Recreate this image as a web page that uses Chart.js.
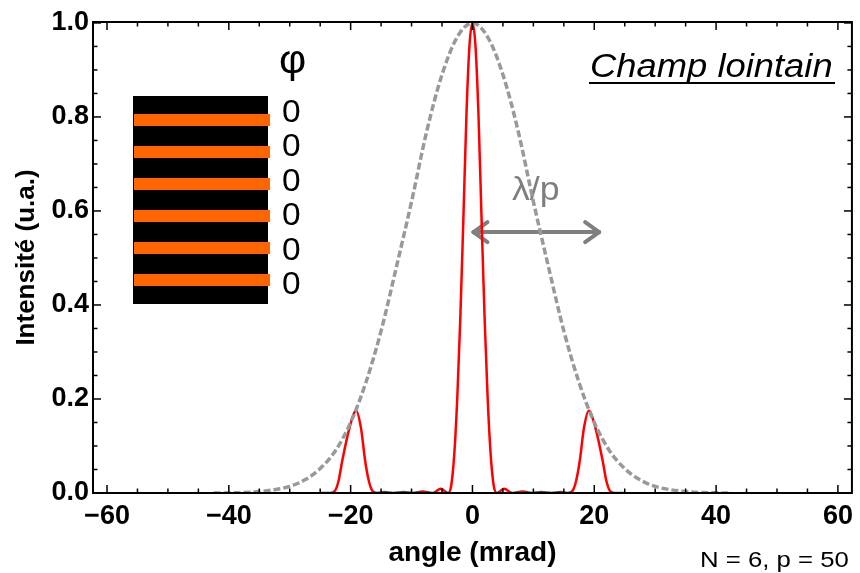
<!DOCTYPE html>
<html>
<head>
<meta charset="utf-8">
<script src="https://cdn.jsdelivr.net/npm/chart.js@4.4.1/dist/chart.umd.min.js"></script>
<style>
  html, body { margin: 0; padding: 0; background: #fff; }
  #wrap { width: 860px; height: 573px; }
</style>
</head>
<body>
<div id="wrap"><canvas id="farField" width="860" height="573"></canvas></div>
<script>
// far-field intensity
const redAngle = [-25, -23.3, -22.6, -22, -21.4, -20.2, -19.1, -18.3, -17.6, -17, -16.4, -15.6, -14.5, -13, -11.3, -9.8, -8.2, -6.6, -5.2, -4, -3.5, -3, -2.5, -2, -1.5, -1, -0.5,
  0,
  0.5, 1, 1.5, 2, 2.5, 3, 3.5, 4, 5.2, 6.6, 8.2, 9.8, 11.3, 13, 14.5, 15.6, 16.4, 17, 17.6, 18.3, 19.1, 20.2, 21.4, 22, 22.6, 23.3, 25];
const redInt = [0, 0, 0.004, 0.025, 0.067, 0.138, 0.175, 0.138, 0.067, 0.025, 0.004, 0, 0.002, 0, 0.002, 0, 0.003, 0, 0.009, 0, 0.015, 0.08, 0.2, 0.37, 0.58, 0.8, 0.95,
  1.0,
  0.95, 0.8, 0.58, 0.37, 0.2, 0.08, 0.015, 0, 0.009, 0, 0.003, 0, 0.002, 0, 0.002, 0, 0.004, 0.025, 0.067, 0.138, 0.175, 0.138, 0.067, 0.025, 0.004, 0, 0];

// single-emitter envelope (gray dashed)
const envAngle = [-42.5, -40, -37.5, -35, -32.5, -30, -27.5, -25, -22.5, -20, -17.5, -15, -12.5, -10, -7.5, -5, -2.5, 0, 2.5, 5, 7.5, 10, 12.5, 15, 17.5, 20, 22.5, 25, 27.5, 30, 32.5, 35, 37.5, 40, 42.5];
const envInt = [0, 0.0004, 0.001, 0.003, 0.007, 0.014, 0.028, 0.052, 0.09, 0.15, 0.235, 0.345, 0.48, 0.62, 0.77, 0.89, 0.97, 1.0, 0.97, 0.89, 0.77, 0.62, 0.48, 0.345, 0.235, 0.15, 0.09, 0.052, 0.028, 0.014, 0.007, 0.003, 0.001, 0.0004, 0];

const xTicks = [-60, -40, -20, 0, 20, 40, 60];
const yTicks = [0, 0.2, 0.4, 0.6, 0.8, 1.0];
const phases = ["0", "0", "0", "0", "0", "0"];

const FONT = "'Liberation Sans', Arial, Helvetica, sans-serif";

function stretchText(ctx, str, x, y, sx) {
  ctx.save();
  ctx.translate(x, y);
  ctx.scale(sx, 1);
  ctx.fillText(str, 0, 0);
  ctx.restore();
}

function seg(ctx, x1, y1, x2, y2) {
  ctx.beginPath();
  ctx.moveTo(x1, y1);
  ctx.lineTo(x2, y2);
  ctx.stroke();
}

const notes = {
  id: "notes",
  beforeDatasetsDraw(chart) {
    const { ctx, scales: { x, y } } = chart;
    ctx.save();

    // emitter stack
    ctx.fillStyle = "#000";
    ctx.fillRect(133, 96, 135, 208);
    ctx.fillStyle = "#ff6600";
    for (let i = 0; i < phases.length; i++) {
      ctx.fillRect(134, 114 + i * 32, 136, 12);
    }

    ctx.fillStyle = "#000";
    ctx.textBaseline = "alphabetic";
    ctx.textAlign = "left";
    ctx.font = "40px " + FONT;
    stretchText(ctx, "\u03c6", 279, 73, 1.05);
    ctx.font = "31px " + FONT;
    phases.forEach((p, i) => stretchText(ctx, p, 282, 122 + i * 34.4, 1.08));

    // lambda/p arrow
    const ay = y.getPixelForValue(0.555);
    const x0 = x.getPixelForValue(0) + 1;
    const x1 = x.getPixelForValue(20.8);
    ctx.strokeStyle = "#7f7f7f";
    ctx.lineWidth = 4;
    ctx.lineCap = "round";
    seg(ctx, x0, ay, x1, ay);
    seg(ctx, x0, ay, x0 + 14, ay - 10);
    seg(ctx, x0, ay, x0 + 14, ay + 10);
    seg(ctx, x1, ay, x1 - 14, ay - 10);
    seg(ctx, x1, ay, x1 - 14, ay + 10);
    ctx.fillStyle = "#7f7f7f";
    ctx.font = "34px " + FONT;
    stretchText(ctx, "\u03bb/p", 512, 200, 1.05);

    ctx.restore();
  },
  afterDatasetsDraw(chart) {
    const { ctx, chartArea: a, scales: { x, y } } = chart;
    ctx.save();
    ctx.strokeStyle = "#000";
    ctx.lineWidth = 2;
    ctx.strokeRect(a.left, a.top, a.right - a.left, a.bottom - a.top);

    // inward ticks on all four sides
    ctx.lineWidth = 1.5;
    for (let v = -60; v <= 60; v += 5) {
      const px = x.getPixelForValue(v);
      const len = v % 20 === 0 ? 8 : 4.5;
      seg(ctx, px, a.bottom, px, a.bottom - len);
      seg(ctx, px, a.top, px, a.top + len);
    }
    for (let i = 0; i <= 20; i++) {
      const py = y.getPixelForValue(i * 0.05);
      const len = i % 4 === 0 ? 8 : 4.5;
      seg(ctx, a.left, py, a.left + len, py);
      seg(ctx, a.right, py, a.right - len, py);
    }

    ctx.fillStyle = "#000";
    ctx.font = "italic 34px " + FONT;
    stretchText(ctx, "Champ lointain", 590, 77, 1.07);
    ctx.lineWidth = 2;
    seg(ctx, 589, 83, 835, 83);

    ctx.font = "22px " + FONT;
    stretchText(ctx, "N = 6, p = 50", 700, 567, 1.17);
    ctx.restore();
  }
};

const ctx = document.getElementById("farField").getContext("2d");

new Chart(ctx, {
  type: "scatter",
  data: {
    datasets: [
      {
        label: "enveloppe",
        data: envAngle.map((a, i) => ({ x: a, y: envInt[i] })),
        showLine: true,
        borderColor: "#999999",
        borderWidth: 3.5,
        borderDash: [7, 3],
        pointRadius: 0,
        cubicInterpolationMode: "monotone",
      },
      {
        label: "intensite",
        data: redAngle.map((a, i) => ({ x: a, y: redInt[i] })),
        showLine: true,
        borderColor: "#ff0000",
        borderWidth: 2.5,
        pointRadius: 0,
        cubicInterpolationMode: "monotone",
      },
    ],
  },
  options: {
    responsive: false,
    animation: false,
    events: [],
    layout: { padding: { top: 22, right: 4, left: 0, bottom: 0 } },
    plugins: { legend: { display: false }, tooltip: { enabled: false } },
    scales: {
      x: {
        type: "linear",
        min: -62.3,
        max: 62.3,
        grid: { display: false, drawTicks: false },
        border: { display: false },
        afterBuildTicks: (s) => { s.ticks = xTicks.map((v) => ({ value: v })); },
        afterFit: (s) => { s.height = 80; },
        ticks: {
          autoSkip: false,
          maxRotation: 0,
          padding: 7,
          color: "#000",
          font: { family: FONT, size: 27, weight: "bold" },
          callback: (v) => (v < 0 ? "\u2212" + Math.abs(v) : String(v)),
        },
        title: {
          display: true,
          text: "angle (mrad)",
          color: "#000",
          font: { family: FONT, size: 28, weight: "bold" },
          padding: { top: 0, bottom: 3 },
        },
      },
      y: {
        min: 0,
        max: 1.002,
        grid: { display: false, drawTicks: false },
        border: { display: false },
        afterBuildTicks: (s) => { s.ticks = yTicks.map((v) => ({ value: v })); },
        afterFit: (s) => { s.width = 93; },
        ticks: {
          padding: 4,
          color: "#000",
          font: { family: FONT, size: 27, weight: "bold" },
          callback: (v) => v.toFixed(1),
        },
        title: {
          display: true,
          text: "Intensité (u.a.)",
          color: "#000",
          font: { family: FONT, size: 26, weight: "bold" },
          padding: { top: 11, bottom: 0 },
        },
      },
    },
  },
  plugins: [notes],
});
</script>
</body>
</html>
